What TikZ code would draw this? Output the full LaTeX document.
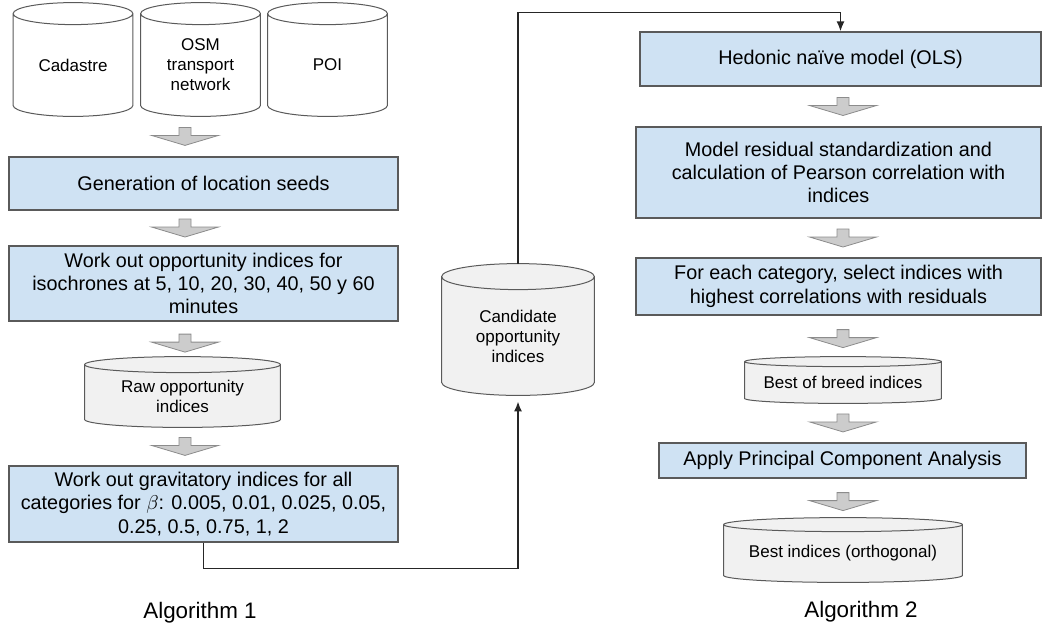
\documentclass[tikz,border=0pt]{standalone}
\usepackage{fontspec}
\setmainfont{Liberation Sans}
\usetikzlibrary{arrows.meta,calc,backgrounds}

\definecolor{boxblue}{HTML}{CFE2F3}
\definecolor{cylgray}{HTML}{F1F1F1}
\definecolor{arrgray}{HTML}{CCCCCC}
\definecolor{edgegray}{HTML}{5A5A5A}

\tikzset{
	stepbox/.style={draw=edgegray, line width=0.6pt, fill=boxblue, align=center, inner sep=0pt, font=\fontsize{9.9}{11.7}\selectfont},
	dbnode/.style={inner sep=0pt, align=center, font=\fontsize{8.5}{10}\selectfont},
	cylline/.style={draw=edgegray, line width=0.5pt},
	flow/.style={draw=black!85, line width=0.8pt, -{Latex[length=5pt,width=4pt]}},
	blockarrow/.pic={\draw[draw=black!45, fill=arrgray, line width=0.4pt] (-6,9) -- (6,9) -- (6,1) -- (33.5,1) -- (0,-9) -- (-33.5,1) -- (-6,1) -- cycle;},
	alglabel/.style={font=\fontsize{11.2}{13}\selectfont}
}

% cylinder round a node: node name, ellipse y radius, fill
\newcommand{\dbcyl}[3]{%
	\draw[cylline, fill=#3] let \p1=(#1.north west), \p2=(#1.south east), \n1={(\x2-\x1)/2} in
		(\x1,\y1) -- (\x1,{\y2+#2}) arc[start angle=180, end angle=360, x radius=\n1, y radius=#2]
		-- (\x2,\y1) arc[start angle=0, end angle=180, x radius=\n1, y radius=#2] -- cycle
		(\x1,\y1) arc[start angle=180, end angle=360, x radius=\n1, y radius=#2];
}

\begin{document}
\begin{tikzpicture}[x=0.5pt, y=0.5pt]
	\useasboundingbox (0,0) rectangle (1043,-628);

	% Algorithm 1
	\node[dbnode, minimum width=59.5pt, minimum height=51pt] (cad) at (73,-65) {Cadastre};
	\node[dbnode, minimum width=59.5pt, minimum height=51pt] (osm) at (200.5,-65) {OSM\\transport\\network};
	\node[dbnode, minimum width=59.5pt, minimum height=51pt] (poi) at (327.5,-65) {POI};
	\node[stepbox, minimum width=194.5pt, minimum height=26.5pt] (gen) at (203.5,-183.5) {Generation of location seeds};
	\node[stepbox, minimum width=194.5pt, minimum height=37.5pt] (work) at (203.5,-283.5) {Work out opportunity indices for\\isochrones at 5, 10, 20, 30, 40, 50 y 60\\minutes};
	\node[dbnode, minimum width=97.5pt, minimum height=31pt] (raw) at (182.5,-396) {Raw opportunity\\indices};
	\node[stepbox, minimum width=194.5pt, minimum height=38pt] (grav) at (203.5,-504) {Work out gravitatory indices for all\\categories for $\beta$: 0.005, 0.01, 0.025, 0.05,\\0.25, 0.5, 0.75, 1, 2};

	\node[dbnode, minimum width=76pt, minimum height=59pt] (cand) at (518,-336) {Candidate\\opportunity\\indices};

	% Algorithm 2
	\node[stepbox, minimum width=200.5pt, minimum height=27pt] (hed) at (840.5,-59) {Hedonic na\"ive model (OLS)};
	\node[stepbox, minimum width=202.5pt, minimum height=45.5pt] (mod) at (838.5,-172.5) {Model residual standardization and\\calculation of Pearson correlation with\\indices};
	\node[stepbox, minimum width=202.5pt, minimum height=28.5pt] (sel) at (838.5,-286.5) {For each category, select indices with\\highest correlations with residuals};
	\node[dbnode, minimum width=98pt, minimum height=20.5pt] (bob) at (843,-382.5) {Best of breed indices};
	\node[stepbox, minimum width=183.5pt, minimum height=17.5pt] (pca) at (842.5,-460.5) {Apply Principal Component Analysis};
	\node[dbnode, minimum width=119pt, minimum height=28.5pt] (best) at (843,-553.5) {Best indices (orthogonal)};

	\node[alglabel] (alg1) at (200,-613) {Algorithm 1};
	\node[alglabel] (alg2) at (861,-612) {Algorithm 2};

	\begin{scope}[on background layer]
		\dbcyl{cad}{5.5pt}{white}
		\dbcyl{osm}{5.5pt}{white}
		\dbcyl{poi}{5.5pt}{white}
		\dbcyl{raw}{4pt}{cylgray}
		\dbcyl{cand}{6.5pt}{cylgray}
		\dbcyl{bob}{2.5pt}{cylgray}
		\dbcyl{best}{3.5pt}{cylgray}
	\end{scope}

	% block arrows between steps
	\coordinate (lcol) at (185,0);
	\coordinate (rcol) at (843,0);
	\foreach \a/\b in {osm/gen,gen/work,work/raw,raw/grav}{
		\coordinate (m) at ($(\a.south)!.5!(\b.north)$);
		\pic at (lcol |- m) {blockarrow};
	}
	\foreach \a/\b in {hed/mod,mod/sel,sel/bob,bob/pca,pca/best}{
		\coordinate (m) at ($(\a.south)!.5!(\b.north)$);
		\pic at (rcol |- m) {blockarrow};
	}

	\draw[flow, shorten >=3pt] (grav.south) -- ++(0,-26) -| (cand.south);
	\draw[flow] ([yshift=6.5pt]cand.north) -- ++(0,251) -| (hed.north);
\end{tikzpicture}
\end{document}
